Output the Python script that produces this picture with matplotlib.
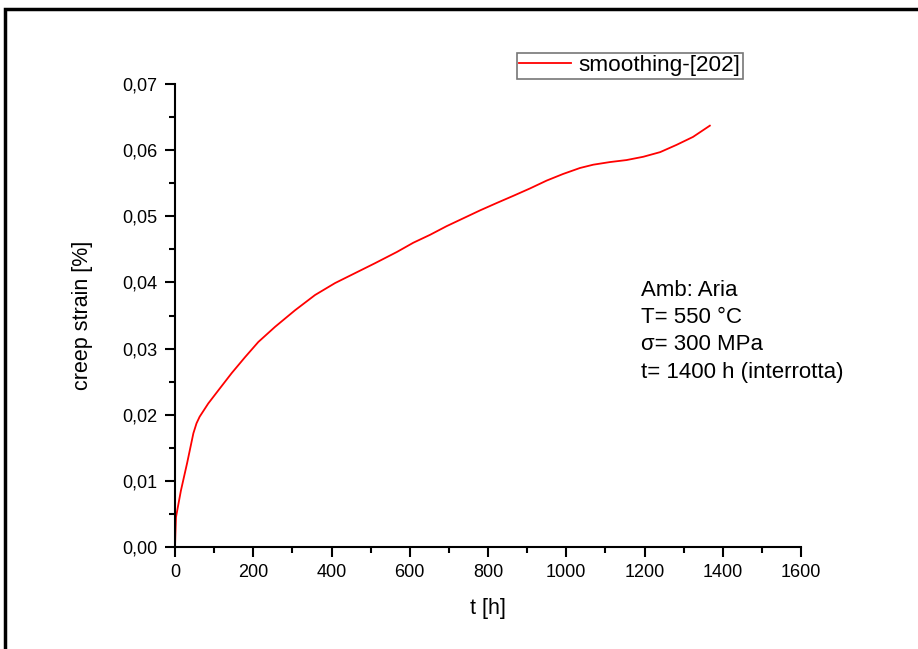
import matplotlib
matplotlib.use("Agg")
import matplotlib.pyplot as plt
from matplotlib.patches import Rectangle
from matplotlib.ticker import MultipleLocator, FuncFormatter

plt.rcParams['font.family'] = ['Liberation Sans', 'DejaVu Sans']

t_h = [0, 1, 2.5, 15, 31, 47, 55, 63, 85, 111, 145, 179, 213, 256, 307,
       358, 409, 460, 511, 567, 609, 652, 694, 737, 780, 822, 865, 907,
       950, 992, 1035, 1069, 1112, 1154, 1197, 1240, 1282, 1324, 1367]
strain = [0.0, 0.002, 0.0045, 0.0085, 0.0127, 0.0172, 0.0187, 0.0197, 0.0217,
          0.0237, 0.0263, 0.0287, 0.0310, 0.0333, 0.0358,
          0.0381, 0.0399, 0.0414, 0.0429, 0.0446, 0.0460, 0.0472, 0.0485,
          0.0497, 0.0509, 0.0520, 0.0531, 0.0542,
          0.0554, 0.0564, 0.0573, 0.0578, 0.0582, 0.0585, 0.0590, 0.0597,
          0.0608, 0.0620, 0.0637]

info_lines = ["Amb: Aria", "T= 550 °C", "σ= 300 MPa", "t= 1400 h (interrotta)"]

W, H = 918, 649
fig = plt.figure(figsize=(W / 100, H / 100), dpi=100)
ax = fig.add_axes([175 / W, 1 - 547 / H, (801 - 175) / W, (547 - 84) / H])

line, = ax.plot(t_h, strain, color='red', lw=1.3, label='smoothing-[202]')

ax.set_xlim(0, 1600)
ax.set_ylim(0, 0.07)
for s in ['top', 'right']:
    ax.spines[s].set_visible(False)
for s in ['left', 'bottom']:
    ax.spines[s].set_linewidth(1.5)
    ax.spines[s].set_color('black')

ax.xaxis.set_major_locator(MultipleLocator(200))
ax.xaxis.set_minor_locator(MultipleLocator(100))
ax.yaxis.set_major_locator(MultipleLocator(0.01))
ax.yaxis.set_minor_locator(MultipleLocator(0.005))
ax.yaxis.set_major_formatter(FuncFormatter(lambda v, p: f"{v:.2f}".replace('.', ',')))
ax.tick_params(which='major', direction='out', length=7.5, width=1.5, labelsize=13, pad=5)
ax.tick_params(which='minor', direction='out', length=4, width=1.5)

ax.set_xlabel('t [h]', fontsize=15.5, labelpad=12)
ax.set_ylabel('creep strain [%]', fontsize=15.5, labelpad=21)

leg = ax.legend(handles=[line], loc='upper left',
                bbox_to_anchor=((517 - 175) / (801 - 175), (547 - 53) / (547 - 84)),
                frameon=True, fancybox=False, fontsize=16.2, handlelength=2.3,
                borderpad=0.1, handletextpad=0.33, borderaxespad=0)
leg.get_frame().set_edgecolor('#555555')
leg.get_frame().set_linewidth(1.2)

y0 = 290
for i, s in enumerate(info_lines):
    fig.text(641 / W, 1 - (y0 + i * 27.5) / H, s, fontsize=16, va='center', ha='left')

fig.patches.append(Rectangle((5 / W, -0.05), 1.1, 1 - 9 / H + 0.05, transform=fig.transFigure,
                             fill=False, edgecolor='black', lw=2.5))

fig.savefig('out.png', dpi=100)
